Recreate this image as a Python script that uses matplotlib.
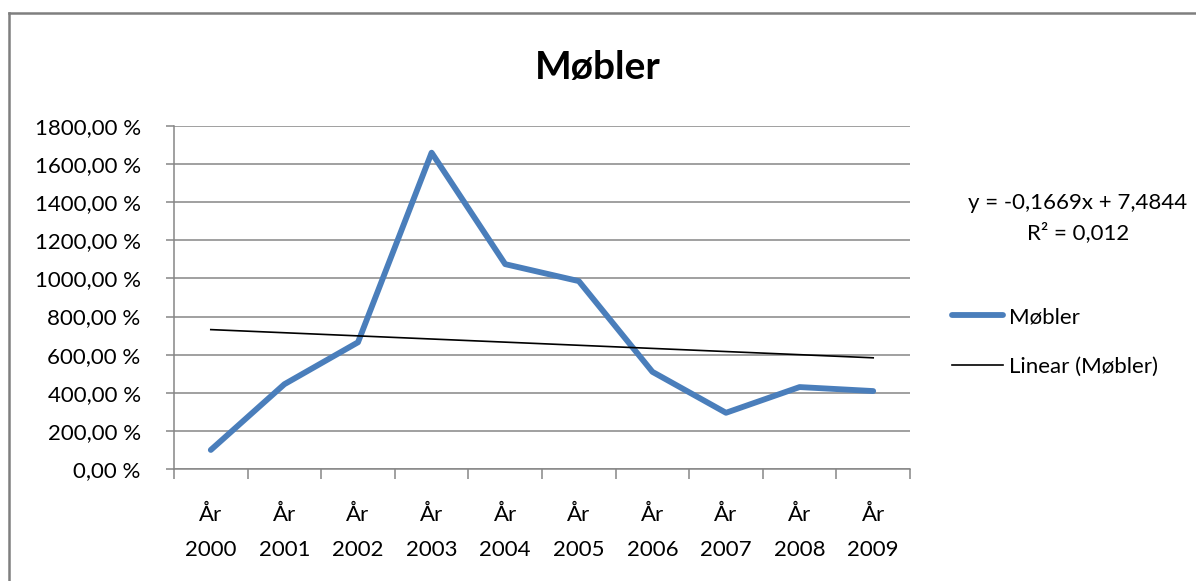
import numpy as np
import matplotlib
matplotlib.use("Agg")
import matplotlib.pyplot as plt
from matplotlib.lines import Line2D
from matplotlib.ticker import FuncFormatter, FixedLocator

plt.rcParams['font.family'] = ['Lato', 'DejaVu Sans']

# data (percent)
years = ["2000", "2001", "2002", "2003", "2004", "2005", "2006", "2007", "2008", "2009"]
values = [100, 445, 665, 1660, 1075, 986, 510, 295, 430, 409]
equation = "y = -0,1669x + 7,4844\nR² = 0,012"

blue = "#4A7EBB"
grey = "#868686"

fig = plt.figure(figsize=(11.96, 5.81), dpi=100)
ax = fig.add_axes([174 / 1196, 1 - 469 / 581, 736 / 1196, 343 / 581])

x = np.arange(len(years))
ax.plot(x, values, color=blue, lw=4.2, solid_joinstyle="round",
        solid_capstyle="round", label="Møbler", zorder=3)

# linear trend line (Excel style, x = 1..n)
k, m = np.polyfit(x + 1, np.array(values) / 100.0, 1)
ax.plot(x, (k * (x + 1) + m) * 100, color="black", lw=1.2, label="Linear (Møbler)", zorder=4)

ax.set_xlim(-0.5, len(years) - 0.5)
ax.set_ylim(0, 1800)
ax.set_yticks(np.arange(0, 1801, 200))
ax.yaxis.set_major_formatter(FuncFormatter(lambda v, p: f"{v:.2f}".replace(".", ",") + " %"))
ax.grid(axis="y", color=grey, lw=1.1)
ax.set_axisbelow(True)

ax.set_xticks(x)
ax.set_xticklabels(["År\n" + y for y in years], linespacing=1.9)
ax.xaxis.set_minor_locator(FixedLocator(np.arange(-0.5, len(years), 1.0)))
ax.tick_params(axis="x", which="major", length=0, pad=26, labelsize=16)
ax.tick_params(axis="x", which="minor", length=7, width=1.1, color=grey)
ax.tick_params(axis="y", length=6, width=1.1, color=grey, pad=18, labelsize=16)

for s in ["top", "right"]:
    ax.spines[s].set_visible(False)
for s in ["left", "bottom"]:
    ax.spines[s].set_color(grey)
    ax.spines[s].set_linewidth(1.1)

fig.text(598 / 1196, 1 - 68 / 581, "Møbler", ha="center", va="center",
         fontsize=28, fontweight="bold")

fig.text(1078 / 1196, 1 - 218 / 581, equation, ha="center", va="center",
         fontsize=16, linespacing=1.55)

ax.legend(loc="center left", bbox_to_anchor=(932 / 1196, 1 - 342 / 581),
          bbox_transform=fig.transFigure, frameon=False, fontsize=16,
          handlelength=2.3, handletextpad=0.25, labelspacing=1.35)

# chart area border (cropped on the right and bottom)
fig.add_artist(Line2D([8.5 / 1196, 1], [1 - 13 / 581] * 2, color="#7f7f7f", lw=1.8,
                      transform=fig.transFigure))
fig.add_artist(Line2D([8.5 / 1196] * 2, [0, 1 - 13 / 581], color="#7f7f7f", lw=1.8,
                      transform=fig.transFigure))

fig.savefig("out.png", dpi=100)
